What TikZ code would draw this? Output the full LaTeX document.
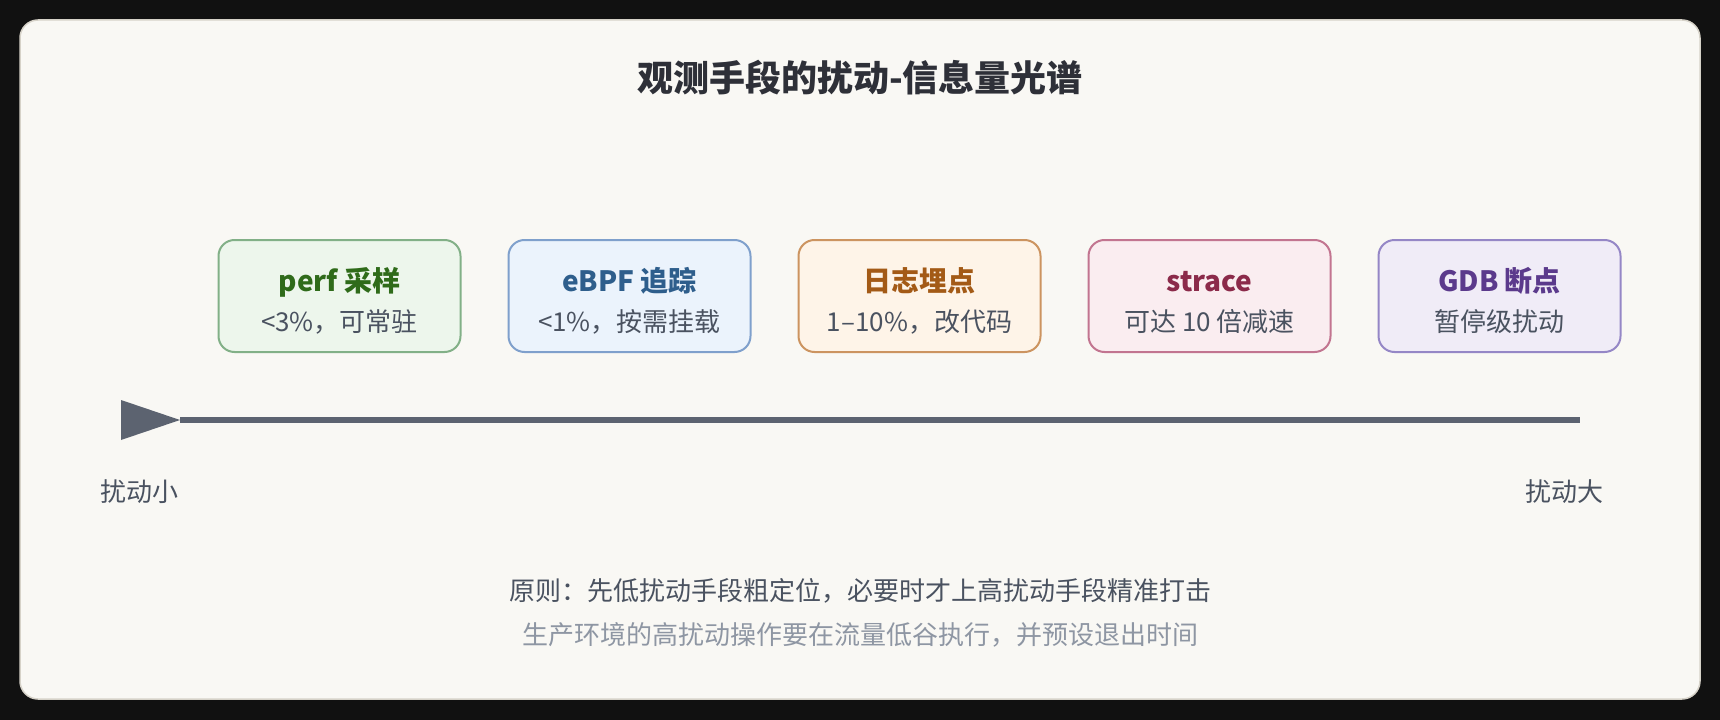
\documentclass[tikz,border=0pt]{standalone}
\usepackage{fontspec}
\setmainfont{Noto Sans CJK SC}
\usetikzlibrary{positioning}

\definecolor{bgdark}{HTML}{111111}
\definecolor{cardbg}{HTML}{F9F8F4}
\definecolor{cardline}{HTML}{D6D2C8}
\definecolor{titlegray}{HTML}{2E3038}
\definecolor{subgray}{HTML}{4A5260}
\definecolor{notegray}{HTML}{8E96A3}
\definecolor{axisgray}{HTML}{5C6370}
\definecolor{grnbg}{HTML}{EDF6EC}
\definecolor{grnline}{HTML}{82B087}
\definecolor{grntxt}{HTML}{2F6B1A}
\definecolor{blubg}{HTML}{EBF3FC}
\definecolor{bluline}{HTML}{7FA0CC}
\definecolor{blutxt}{HTML}{2E5E8C}
\definecolor{orgbg}{HTML}{FEF4E8}
\definecolor{orgline}{HTML}{CC9460}
\definecolor{orgtxt}{HTML}{A35A16}
\definecolor{redbg}{HTML}{FAEDF0}
\definecolor{redline}{HTML}{C27590}
\definecolor{redtxt}{HTML}{8B2A4A}
\definecolor{purbg}{HTML}{F0ECF7}
\definecolor{purline}{HTML}{9587C6}
\definecolor{purtxt}{HTML}{5B3A8C}

\tikzset{
  probe/.style={draw, rounded corners=16bp, line width=2bp,
    minimum width=242bp, minimum height=112bp, align=center,
    text=subgray, font=\fontsize{26bp}{40bp}\selectfont},
  hint/.style={text=subgray, font=\fontsize{26bp}{30bp}\selectfont},
}
\newcommand{\probetext}[3]{\rule{0pt}{33bp}{\bfseries\fontsize{28bp}{40bp}\selectfont\color{#1}#2}\\#3}

\begin{document}
\begin{tikzpicture}[x=1bp,y=-1bp]
            \fill[bgdark] (0,0) rectangle (1720,720);
            \draw[cardline, fill=cardbg, rounded corners=18bp, line width=1.5bp] (20,20) rectangle (1700,699);
            \node[text=titlegray, font=\bfseries\fontsize{36bp}{40bp}\selectfont] (title) at (860,78) {观测手段的扰动-信息量光谱};
            \node[probe, draw=grnline, fill=grnbg] (perf) at (339.5,296) {\probetext{grntxt}{perf 采样}{<3\%，可常驻}};
            \node[probe, draw=bluline, fill=blubg, right=46bp of perf] (ebpf) {\probetext{blutxt}{eBPF 追踪}{<1\%，按需挂载}};
            \node[probe, draw=orgline, fill=orgbg, right=46bp of ebpf] (log) {\probetext{orgtxt}{日志埋点}{1–10\%，改代码}};
            \node[probe, draw=redline, fill=redbg, right=46bp of log] (strace) {\probetext{redtxt}{strace}{可达 10 倍减速}};
            \node[probe, draw=purline, fill=purbg, right=46bp of strace] (gdb) {\probetext{purtxt}{GDB 断点}{暂停级扰动}};
            \coordinate (lo) at (180,420);
            \coordinate (hi) at (1580,420);
            \draw[axisgray, line width=6bp] (lo) -- (hi);
            \fill[axisgray] (lo) -- ++(-59,-20) -- ++(0,40) -- cycle;
            \node[hint] (small) at (139,492) {扰动小};
            \node[hint] (big) at (1564,492) {扰动大};
            \node[hint] (rule) at (860,591) {原则：先低扰动手段粗定位，必要时才上高扰动手段精准打击};
            \node[hint, text=notegray] (note) at (860,635) {生产环境的高扰动操作要在流量低谷执行，并预设退出时间};
        \end{tikzpicture}
\end{document}
